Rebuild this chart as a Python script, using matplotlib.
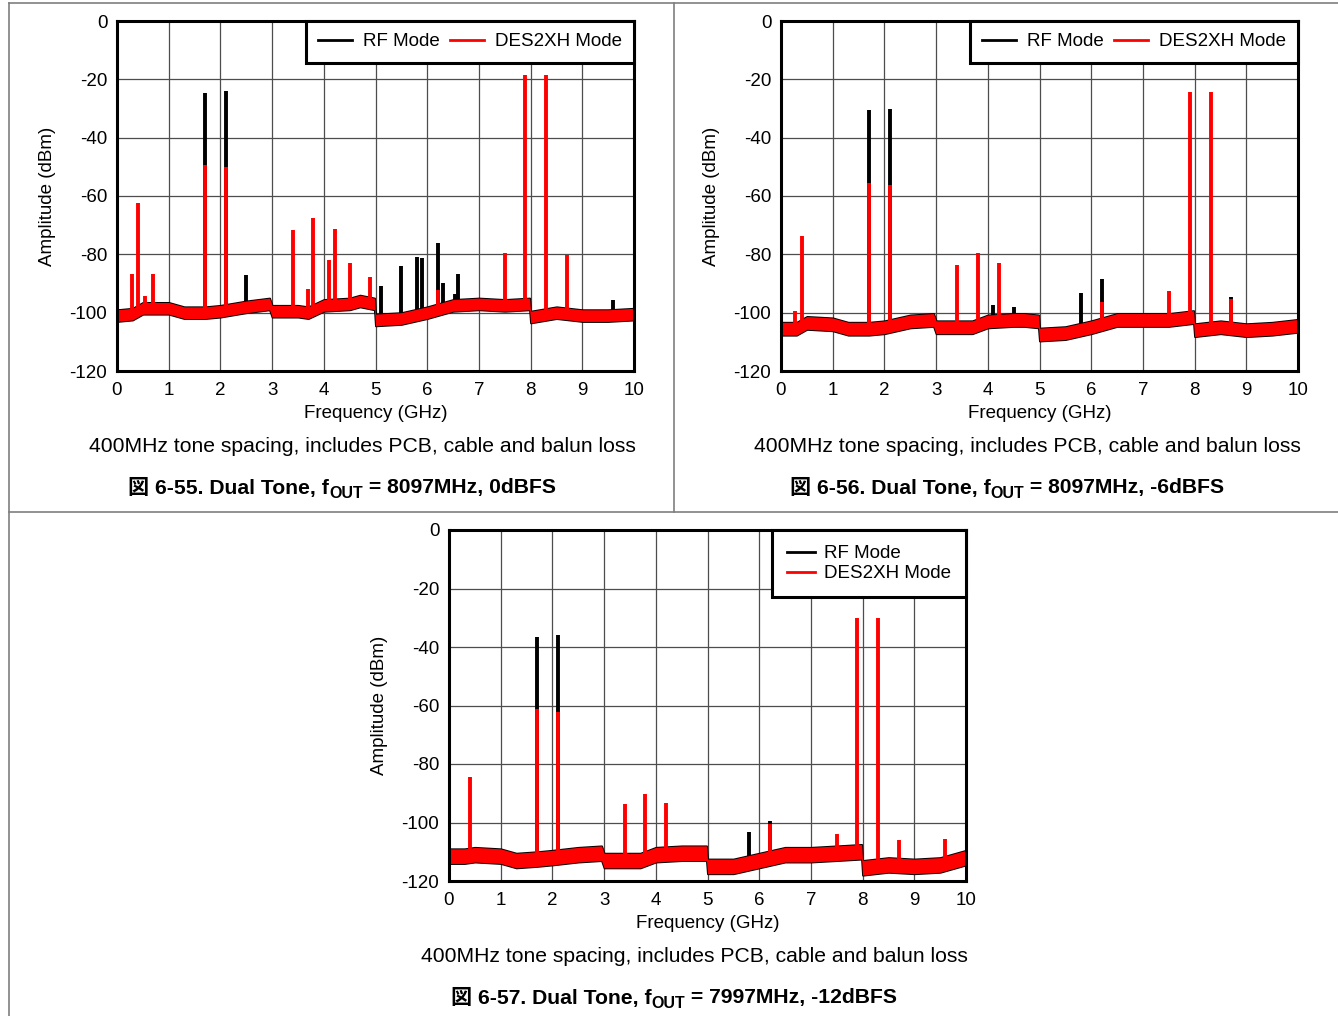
import numpy as np
import matplotlib
matplotlib.use("Agg")
import matplotlib.pyplot as plt
from matplotlib.lines import Line2D

plt.rcParams["font.family"] = ["Liberation Sans", "Noto Sans CJK JP", "DejaVu Sans"]
plt.rcParams["axes.unicode_minus"] = False

W, H = 1338, 1016

# noise floor breakpoints (GHz) and band centre (dBm)
floor_f = [0.0, 0.3, 0.5, 1.0, 1.3, 1.7, 2.0, 2.5, 2.95, 3.0, 3.5, 3.7, 4.0, 4.5,
           4.7, 4.98, 5.0, 5.5, 6.0, 6.5, 7.0, 7.5, 7.98, 8.0, 8.5, 9.0, 9.5, 10.0]
floor_55 = [-101, -100.5, -98.5, -98.5, -100, -100, -99.5, -98, -97, -99.5, -99.5, -100, -97.5, -97,
            -96, -97, -102.5, -102, -100, -97.5, -97, -97.5, -97, -101.5, -100, -101, -101, -100.5]
floor_56 = [-105.5, -105.5, -103.5, -104, -105.5, -105.5, -105, -103, -102.5, -105, -105, -105, -103, -102.5,
            -102.5, -103, -107.5, -107, -105, -102.5, -102.5, -102.5, -101.5, -106, -105, -106, -105.5, -104.5]
floor_57 = [-111.5, -111.5, -111, -111.5, -113, -112.5, -112, -111, -110.5, -113, -113, -113, -111, -110.5,
            -110.5, -110.5, -115, -115, -113, -111, -111, -110.5, -110, -115.5, -114.5, -115, -114.5, -112]
floor_halfwidth = [2.0, 2.2, 2.5]

# spurs: RF mode (black) and DES2XH mode (red)
rf_f_55 = [1.7, 2.1, 2.5, 5.1, 5.5, 5.8, 5.9, 6.2, 6.3, 6.53, 6.6, 9.6]
rf_a_55 = [-24.6, -24.0, -87.1, -90.8, -83.9, -80.9, -81.3, -76.2, -89.9, -93.6, -86.6, -95.6]
des_f_55 = [0.29, 0.4, 0.55, 0.69, 1.7, 2.1, 3.4, 3.69, 3.8, 4.1, 4.21, 4.5, 4.9, 6.2, 7.5, 7.9, 8.3, 8.7]
des_a_55 = [-86.8, -62.3, -94.4, -86.6, -49.4, -50.2, -71.8, -91.9, -67.5, -81.9, -71.3, -83.0, -87.9,
            -92.1, -79.7, -18.5, -18.5, -80.3]

rf_f_56 = [1.7, 2.1, 4.1, 4.5, 5.8, 6.2, 8.7]
rf_a_56 = [-30.6, -30.1, -97.4, -97.9, -93.1, -88.3, -94.6]
des_f_56 = [0.28, 0.4, 1.7, 2.1, 3.41, 3.81, 4.21, 6.2, 7.5, 7.91, 8.31, 8.7]
des_a_56 = [-99.3, -73.8, -55.5, -56.3, -83.6, -79.5, -82.9, -96.2, -92.7, -24.5, -24.5, -95.3]

rf_f_57 = [1.7, 2.1, 5.8, 6.2]
rf_a_57 = [-36.5, -35.9, -103.4, -99.5]
des_f_57 = [0.4, 1.7, 2.1, 3.4, 3.8, 4.2, 6.2, 7.5, 7.9, 8.3, 8.7, 9.6]
des_a_57 = [-84.6, -61.2, -62.1, -93.7, -90.4, -93.4, -100.6, -104.0, -30.2, -30.2, -105.9, -105.5]

caption = "400MHz tone spacing, includes PCB, cable and balun loss"
titles = [("6-55", "8097MHz, 0dBFS"), ("6-56", "8097MHz, -6dBFS"), ("6-57", "7997MHz, -12dBFS")]

x_ticks = list(range(0, 11))
y_ticks = [0, -20, -40, -60, -80, -100, -120]


def px(x, y):
    return x / W, 1 - y / H


fig = plt.figure(figsize=(W / 100, H / 100), dpi=100)

# page frame lines
gray = "#7f7f7f"
for xs, ys in [((9, 1338), (3, 3)), ((9, 9), (3, 1016)), ((674, 674), (3, 512)), ((9, 1338), (512, 512))]:
    p0 = px(xs[0], ys[0])
    p1 = px(xs[1], ys[1])
    fig.add_artist(Line2D([p0[0], p1[0]], [p0[1], p1[1]], color=gray, lw=1.2, transform=fig.transFigure))


def draw_panel(rect, floor_c, hw, rf_f, rf_a, des_f, des_a, two_row_legend):
    ax = fig.add_axes(rect)
    fc = np.array(floor_c)
    lo, hi = fc - hw, fc + hw
    ax.fill_between(floor_f, lo, hi, color="black", lw=1.4, zorder=3)
    base_rf = np.interp(rf_f, floor_f, fc)
    ax.vlines(rf_f, base_rf, rf_a, color="black", lw=2.8, zorder=3)
    ax.fill_between(floor_f, lo, hi, color="#ff0000", lw=0, zorder=4)
    base_des = np.interp(des_f, floor_f, fc)
    ax.vlines(des_f, base_des, des_a, color="#ff0000", lw=2.8, zorder=4)

    ax.set_xlim(0, 10)
    ax.set_ylim(-120, 0)
    ax.set_xticks(x_ticks)
    ax.set_yticks(y_ticks)
    ax.grid(True, color="0.3", lw=0.9, zorder=1)
    ax.set_axisbelow(True)
    ax.tick_params(length=0, labelsize=13.5)
    ax.tick_params(axis="x", pad=8)
    ax.tick_params(axis="y", pad=7)
    for s in ax.spines.values():
        s.set_linewidth(2.2)
        s.set_zorder(6)
    ax.set_xlabel("Frequency (GHz)", fontsize=13.5)
    ax.set_ylabel("Amplitude (dBm)", fontsize=13.5)
    ax.xaxis.set_label_coords(0.5, -0.12)
    ax.xaxis.label.set_va("center")
    ax.yaxis.set_label_coords(-0.135, 0.5)
    ax.yaxis.label.set_va("center")

    handles = [Line2D([], [], color="black", lw=2), Line2D([], [], color="#ff0000", lw=2)]
    if two_row_legend:
        opts = dict(ncol=1, handlelength=1.5, handletextpad=0.5, borderpad=0.8, labelspacing=0.15)
    else:
        opts = dict(ncol=2, handlelength=1.8, handletextpad=0.6, columnspacing=0.55,
                    borderpad=0.65)
    leg = ax.legend(handles, ["RF Mode", "DES2XH Mode"], loc="upper right", fontsize=13.5,
                    frameon=True, fancybox=False, framealpha=1, edgecolor="black",
                    borderaxespad=0, **opts)
    leg.get_frame().set_linewidth(2.2)
    leg.set_zorder(7)
    return ax


ax1 = draw_panel([117 / W, 1 - 371 / H, 517 / W, 350 / H], floor_55, floor_halfwidth[0],
                 rf_f_55, rf_a_55, des_f_55, des_a_55, False)
ax2 = draw_panel([781 / W, 1 - 371 / H, 517 / W, 350 / H], floor_56, floor_halfwidth[1],
                 rf_f_56, rf_a_56, des_f_56, des_a_56, False)
ax3 = draw_panel([449 / W, 1 - 881 / H, 517 / W, 351 / H], floor_57, floor_halfwidth[2],
                 rf_f_57, rf_a_57, des_f_57, des_a_57, True)

# captions
for (xc, yc) in [(362, 447), (1027, 447), (694, 957)]:
    fig.text(*px(xc, yc), caption, ha="center", va="center", fontsize=15.2)

# bold figure titles with subscript "OUT"
renderer = fig.canvas.get_renderer()
for (no, rest), (xc, yc) in zip(titles, [(342, 488), (1007, 488), (674, 998)]):
    parts = [("図 " + no + ". Dual Tone, f", 15.2, 0), ("OUT", 11.5, 6), (" = " + rest, 15.2, 0)]
    texts = []
    widths = []
    for s, size, dy in parts:
        t = fig.text(0, 0, s, fontsize=size, fontweight="bold", ha="left", va="center")
        widths.append(t.get_window_extent(renderer).width)
        texts.append(t)
    x0 = xc - sum(widths) / 2
    for t, w, (s, size, dy) in zip(texts, widths, parts):
        t.set_position(px(x0, yc + dy))
        x0 += w

fig.savefig("out.png", dpi=100)
